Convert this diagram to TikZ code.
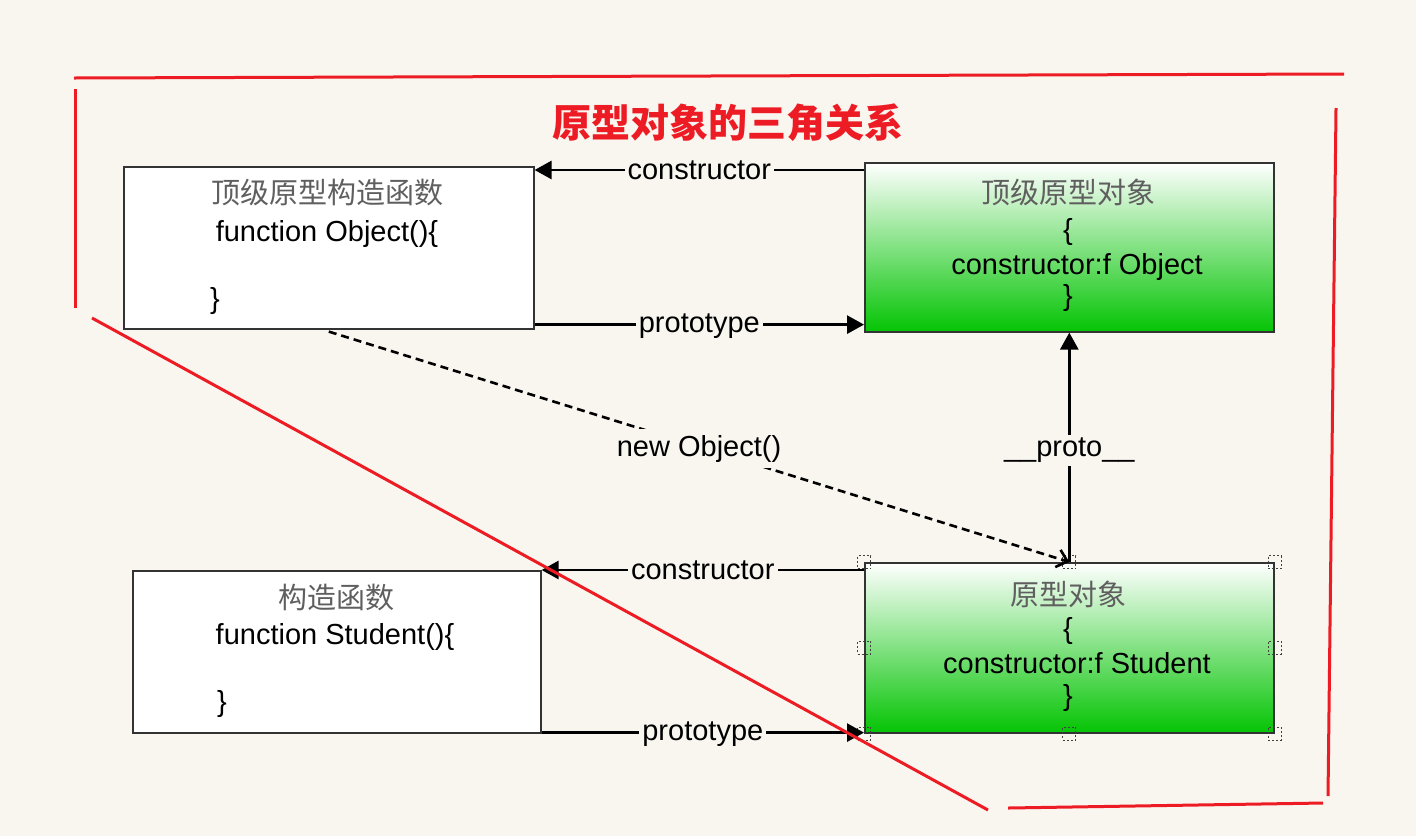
\documentclass[tikz,border=0pt]{standalone}
\usepackage{fontspec}
\setmainfont{Liberation Sans}
\newfontfamily\cjk{Noto Sans CJK SC}
\usetikzlibrary{arrows,arrows.meta}
\definecolor{pagebg}{RGB}{249,246,240}
\definecolor{protogreen}{RGB}{4,196,4}
\definecolor{markred}{RGB}{237,28,36}
\definecolor{cjkgray}{RGB}{95,95,95}
\tikzset{%
    >={Triangle[length=8.5pt,width=9pt]},
    fnbox/.style={draw=black!80, line width=0.8pt, fill=white, anchor=north west, inner sep=0pt},
    protobox/.style={fnbox, top color=white, bottom color=protogreen},
    link/.style={line width=1.4pt, ->},
    newlink/.style={line width=1.3pt, dash pattern=on 4pt off 2.5pt, -{Straight Barb[length=5pt,width=9pt]}},
    lbl/.style={fill=pagebg, inner sep=1.5pt, font=\fontsize{14.5pt}{16pt}\selectfont},
    txt/.style={anchor=base, inner sep=0pt, font=\fontsize{14.5pt}{16pt}\selectfont},
    cntxt/.style={txt, font=\cjk\fontsize{14.5pt}{16pt}\selectfont, text=cjkgray},
    handle/.style={draw=black!75, line width=0.6pt, dash pattern=on 1pt off 1pt, minimum size=6.5pt, inner sep=0pt},
    redmark/.style={draw=markred, line width=1.5pt}
}

\begin{document}
\begin{tikzpicture}[x=0.5pt,y=-0.5pt]
      \fill[pagebg] (0,0) rectangle (1416,836);
      \useasboundingbox (0,0) rectangle (1416,836);

      \node[font=\cjk\bfseries\fontsize{19.5pt}{22pt}\selectfont, text=markred] (title) at (728,123) {原型对象的三角关系};

      % top row
      \node[fnbox, minimum width=205pt, minimum height=81pt] (objfn) at (123,166) {};
      \node[protobox, minimum width=204.5pt, minimum height=84.5pt] (objproto) at (864,162) {};
      \node[cntxt] (objfnname) at (327,203) {顶级原型构造函数};
      \node[txt] (objfnhead) at (327,241) {function Object()\{};
      \node[txt] (objfnend) at (215,308) {\}};
      \node[cntxt] (objprotoname) at (1068,203) {顶级原型对象};
      \node[txt] (objprotoopen) at (1068,239) {\{};
      \node[txt] (objprotoctor) at (1077,274) {constructor:f Object};
      \node[txt] (objprotoend) at (1068,305) {\}};

      % bottom row
      \node[fnbox, minimum width=204pt, minimum height=81pt] (stufn) at (132,570) {};
      \node[protobox, minimum width=204.5pt, minimum height=85pt] (stuproto) at (864,562) {};
      \node[cntxt] (stufnname) at (336,608) {构造函数};
      \node[txt] (stufnhead) at (335,644) {function Student()\{};
      \node[txt] (stufnend) at (222,711) {\}};
      \node[cntxt] (stuprotoname) at (1068,605) {原型对象};
      \node[txt] (stuprotoopen) at (1068,638) {\{};
      \node[txt] (stuprotoctor) at (1077,673) {constructor:f Student};
      \node[txt] (stuprotoend) at (1068,705) {\}};

      \foreach \a in {north west,north,north east,west,east,south west,south,south east}
          \node[handle] at (stuproto.\a) {};

      % links
      \coordinate (ctortop) at ([yshift=-4pt]objproto.north west);
      \coordinate (prototop) at ([yshift=2.5pt]objfn.south east);
      \coordinate (ctorbot) at ([yshift=-4pt]stuproto.north west);
      \coordinate (protobot) at ([yshift=0.5pt]stufn.south east);

      \draw[link] (ctortop) -- (ctortop -| objfn.east) node[lbl, midway] {constructor};
      \draw[link] (prototop) -- (prototop -| objproto.west) node[lbl, midway, yshift=-1pt] {prototype};
      \draw[link] (ctorbot) -- (ctorbot -| stufn.east) node[lbl, midway] {constructor};
      \draw[link] (protobot) -- (protobot -| stuproto.west) node[lbl, midway, yshift=-1pt] {prototype};
      \draw[link] (stuproto.north) -- (objproto.south) node[lbl, midway, yshift=-1.5pt] {\_\_proto\_\_};
      \draw[newlink] ([yshift=-1pt]objfn.south) -- (stuproto.north) node[lbl, midway, yshift=-1pt, inner sep=3pt] {new Object()};

      % red marks
      \draw[redmark] (74,78) -- (1344,74);
      \draw[redmark] (75,89) -- (75,308);
      \draw[redmark] (92,318) -- (988,810);
      \draw[redmark] (1008,808) -- (1323,803);
      \draw[redmark] (1336,108) -- (1328,796);
\end{tikzpicture}
\end{document}
